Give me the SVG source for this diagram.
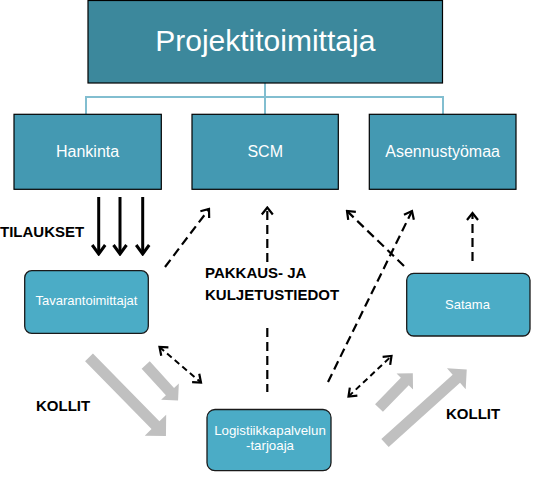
<svg xmlns="http://www.w3.org/2000/svg" width="537" height="477" viewBox="0 0 537 477">
<defs>
<style>
.top{fill:#3C889C;stroke:#000;stroke-width:1.2}
.mid{fill:#4499B2;stroke:#000;stroke-width:1.2}
.low{fill:#4BACC6;stroke:#1a1a1a;stroke-width:1.3}
.wt{fill:#fff;font-family:"Liberation Sans",Arial,sans-serif;text-anchor:middle}
.lbl{fill:#000;font-family:"Liberation Sans",Arial,sans-serif;font-weight:bold;font-size:15px}
.tree{stroke:#82BED0;stroke-width:2;fill:none}
.solid{stroke:#000;stroke-width:3;fill:none}
.dash{stroke:#000;stroke-width:2.2;fill:none;stroke-dasharray:9 5}
.dash2{stroke:#000;stroke-width:2;fill:none;stroke-dasharray:6 4}
.gray{fill:#C0C0C0}
</style>
<marker id="ah" markerUnits="userSpaceOnUse" viewBox="-10 -8 12 16" refX="0" refY="0" markerWidth="12" markerHeight="16" orient="auto-start-reverse">
<path d="M-7,-5.5 L0,0 L-7,5.5" fill="none" stroke="#000" stroke-width="2.2"/>
</marker>
<marker id="ahb" markerUnits="userSpaceOnUse" viewBox="-12 -9 14 18" refX="0" refY="0" markerWidth="14" markerHeight="18" orient="auto">
<path d="M-9,-6.5 L0,0 L-9,6.5" fill="none" stroke="#000" stroke-width="3"/>
</marker>
</defs>

<g id="connectors">
<path class="tree" d="M265,83 V97 M86,114 V97 H443 V114 M265,97 V114"/>
<line class="solid" x1="98.7" y1="197" x2="98.7" y2="254" marker-end="url(#ahb)"/>
<line class="solid" x1="120" y1="197" x2="120" y2="254" marker-end="url(#ahb)"/>
<line class="solid" x1="142.7" y1="197" x2="142.7" y2="254" marker-end="url(#ahb)"/>
<line class="dash" x1="165" y1="267" x2="209" y2="209" marker-end="url(#ah)"/>
<line class="dash" x1="267.3" y1="262" x2="267.3" y2="207.5" marker-end="url(#ah)"/>
<line class="dash" x1="267.3" y1="328" x2="267.3" y2="392"/>
<line class="dash" x1="404" y1="266" x2="347" y2="211" marker-end="url(#ah)"/>
<line class="dash" x1="328" y1="382" x2="412" y2="211" marker-end="url(#ah)"/>
<line class="dash" x1="472.5" y1="261" x2="472.5" y2="213" marker-end="url(#ah)"/>
<line class="dash2" x1="159.5" y1="347" x2="201" y2="382.5" marker-start="url(#ah)" marker-end="url(#ah)"/>
<line class="dash2" x1="348.5" y1="396.5" x2="391.5" y2="356" marker-start="url(#ah)" marker-end="url(#ah)"/>
<polygon class="gray" transform="translate(89,357.3) rotate(45.6)" points="0,-5.5 95,-5.5 95,-15 110,0 95,15 95,5.5 0,5.5"/>
<polygon class="gray" transform="translate(145.7,365) rotate(47.6)" points="0,-5.5 36,-5.5 36,-12 48,0 36,12 36,5.5 0,5.5"/>
<polygon class="gray" transform="translate(379,408) rotate(-45.8)" points="0,-5.5 37,-5.5 37,-11.5 48.5,0 37,11.5 37,5.5 0,5.5"/>
<polygon class="gray" transform="translate(385,443) rotate(-42)" points="0,-5.5 96,-5.5 96,-14 110,0 96,14 96,5.5 0,5.5"/>
</g>

<g id="projektitoimittaja">
<rect class="top" x="88" y="0.5" width="354.5" height="82.5"/>
<text class="wt" x="265.3" y="51" font-size="30">Projektitoimittaja</text>
</g>
<g id="hankinta">
<rect class="mid" x="14" y="114.3" width="147.3" height="75"/>
<text class="wt" x="87.6" y="157" font-size="16">Hankinta</text>
</g>
<g id="scm">
<rect class="mid" x="192" y="114.3" width="146.3" height="75"/>
<text class="wt" x="265.2" y="157" font-size="16">SCM</text>
</g>
<g id="asennustyomaa">
<rect class="mid" x="369.3" y="114.3" width="146.7" height="75"/>
<text class="wt" x="442.6" y="157" font-size="16">Asennustyömaa</text>
</g>
<g id="tavarantoimittajat">
<rect class="low" x="24.7" y="270.7" width="123.6" height="62.6" rx="7"/>
<text class="wt" x="86.5" y="305" font-size="13">Tavarantoimittajat</text>
</g>
<g id="satama">
<rect class="low" x="406.7" y="273.3" width="123.3" height="62.7" rx="7"/>
<text class="wt" x="467.5" y="309" font-size="13">Satama</text>
</g>
<g id="logistiikka">
<rect class="low" x="207" y="409.5" width="124" height="61.2" rx="8"/>
<text class="wt" x="270" y="435" font-size="13.3">Logistiikkapalvelun</text>
<text class="wt" x="270" y="450" font-size="13.3">-tarjoaja</text>
</g>

<g id="labels">
<text class="lbl" x="0" y="237">TILAUKSET</text>
<text class="lbl" x="205" y="278" font-size="14.5">PAKKAUS- JA</text>
<text class="lbl" x="205" y="300" font-size="14.5">KULJETUSTIEDOT</text>
<text class="lbl" x="36" y="411">KOLLIT</text>
<text class="lbl" x="446" y="419">KOLLIT</text>
</g>
</svg>
